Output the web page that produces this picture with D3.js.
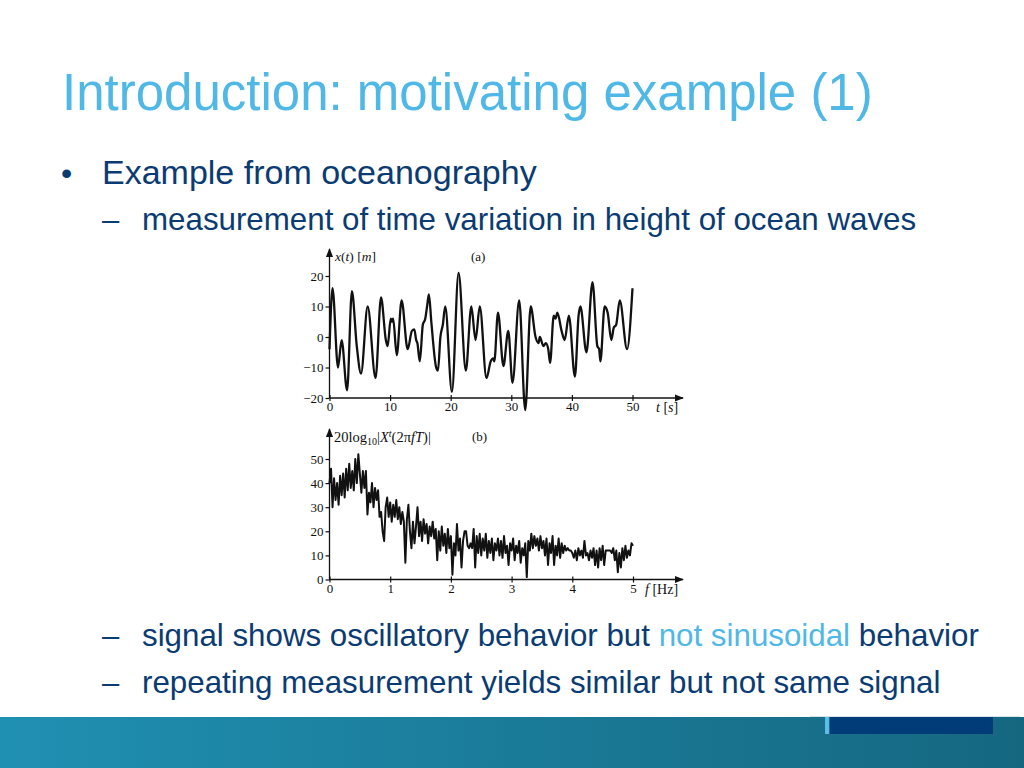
<!DOCTYPE html>
<html>
<head>
<meta charset="utf-8">
<script src="https://cdn.jsdelivr.net/npm/d3@7"></script>
<style>
  body { margin: 0; background: #fff; }
  svg { display: block; }
  .tick text { font-family: "Liberation Serif", serif; font-size: 13px; fill: #111; }
  .tick line { stroke: #111; stroke-width: 1.2; }
</style>
</head>
<body>
<div id="slide"></div>
<script>
// wave height record (a): knots, t in s, x in m
var waveT = [0, 0.5, 1.4, 2.0, 2.9, 3.7, 4.5, 5.2, 6.3, 7.6, 8.5, 9.3, 9.6, 10.1, 10.3, 10.5, 11.1, 11.9, 12.9, 13.6,
  14.0, 14.3, 14.5, 14.9, 15.4, 15.8, 16.1, 16.4, 16.8, 17.6, 17.9, 18.3, 18.7, 19.1, 20.2, 21.3, 22.5, 23.4, 24.1, 24.8,
  25.9, 26.6, 27.0, 27.2, 27.8, 28.7, 29.5, 30.2, 31.3, 32.3, 33.2, 34.0, 34.5, 34.7, 35.3, 35.7, 36.1, 36.4, 37.0, 37.3,
  37.6, 38.3, 38.8, 39.5, 40.5, 41.1, 41.4, 42.4, 43.4, 44.2, 44.5, 44.7, 45.4, 45.9, 46.5, 46.9, 47.3, 47.9, 49.1, 50];
var waveX = [-4, 16, -10, -1, -17.5, 15, -3, -12, 10, -13.5, 13, -1, -3, 6, 5, 6, -6, 12, -4, 2,
  2.5, -1, -2, -8, 4, 6, 10, 14, 5, -10, -11, 0, 4, 10, -18, 21, -11, 10, -1, 10,
  -13.5, -8, -7, -8, 8, -9.5, 2, -15, 12, -24, 10, 0, -2, 0, -3, -2, -4, -8.5, 7, 6,
  8, 2, -1, 7, -13, 7, 10, -5, 18, -3, -4, -8, 10, 8, -1, 3, 4, 12, -4, 16];

// spectrum (b): dB values, one every 0.025 Hz from 0 to 5 Hz
var specStep = 0.025;
var specDb = [
  40, 46, 30, 42, 33, 40, 31, 43, 35, 44, 34,
  46, 37, 48, 38, 45, 37, 50, 40, 52, 44,
  36, 45, 38, 45, 27, 36, 32, 40, 30, 38,
  33, 37, 26, 28, 20, 16, 30, 34, 26, 32,
  24, 31, 26, 33, 25, 30, 23, 28, 24, 7,
  25, 31, 20, 13, 24, 15, 22, 30, 18, 24,
  16, 25, 19, 23, 15, 22, 18, 24, 17, 21,
  8, 20, 12, 22, 14, 19, 11, 21, 13, 18,
  2, 15, 10, 23, 12, 17, 5, 16, 20, 20,
  14, 13, 15, 13, 21, 5, 18, 11, 19, 10,
  17, 12, 19, 9, 16, 11, 17, 8, 15, 12,
  17, 10, 16, 9, 18, 11, 14, 6, 15, 12,
  17, 8, 14, 11, 16, 7, 13, 10, 15, 1,
  16, 12, 19, 13, 18, 14, 17, 12, 18, 13,
  16, 10, 17, 6, 15, 11, 18, 6, 14, 10,
  17, 9, 15, 11, 14, 12, 13, 12, 12, 11,
  9, 12, 8, 13, 10, 12, 9, 16, 10, 11,
  8, 12, 9, 13, 6, 12, 5, 13, 8, 14,
  6, 12, 12, 12, 12, 11, 13, 8, 12, 3,
  11, 5, 13, 8, 14, 9, 12, 10, 15, 14];

var ticksTA = [0, 10, 20, 30, 40, 50];
var ticksXA = [-20, -10, 0, 10, 20];
var ticksFB = [0, 1, 2, 3, 4, 5];
var ticksDbB = [0, 10, 20, 30, 40, 50];

var svg = d3.select("#slide").append("svg")
  .attr("width", 1024)
  .attr("height", 768);

var defs = svg.append("defs");
var grad = defs.append("linearGradient").attr("id", "band");
grad.append("stop").attr("offset", "0%").attr("stop-color", "#2090b2");
grad.append("stop").attr("offset", "100%").attr("stop-color", "#156780");

defs.append("marker")
  .attr("id", "arrow")
  .attr("viewBox", "0 0 10 10")
  .attr("refX", 9).attr("refY", 5)
  .attr("markerWidth", 7).attr("markerHeight", 7)
  .attr("orient", "auto")
  .append("path")
  .attr("d", "M0,1 L10,5 L0,9 Z")
  .attr("fill", "#111");

// ---- slide text ----
var sans = "'Liberation Sans', Arial, sans-serif";
var navy = "#0b3b73";
var light = "#4fb8e6";

svg.append("text")
  .attr("x", 62).attr("y", 110)
  .attr("font-family", sans).attr("font-size", 51)
  .attr("fill", light)
  .text("Introduction: motivating example (1)");

svg.append("text").attr("x", 61).attr("y", 184)
  .attr("font-family", sans).attr("font-size", 32).attr("fill", navy).text("•");
svg.append("text").attr("x", 102).attr("y", 184)
  .attr("font-family", sans).attr("font-size", 34).attr("fill", navy)
  .text("Example from oceanography");

var subs = [
  { y: 230, parts: [["measurement of time variation in height of ocean waves", navy]] },
  { y: 646, parts: [["signal shows oscillatory behavior but ", navy], ["not sinusoidal", light], [" behavior", navy]] },
  { y: 693, parts: [["repeating measurement yields similar but not same signal", navy]] }
];
subs.forEach(function(s) {
  svg.append("text").attr("x", 102).attr("y", s.y)
    .attr("font-family", sans).attr("font-size", 31).attr("fill", navy).text("–");
  var t = svg.append("text").attr("x", 142).attr("y", s.y)
    .attr("font-family", sans).attr("font-size", 31.3);
  s.parts.forEach(function(p) {
    t.append("tspan").attr("fill", p[1]).text(p[0]);
  });
});

// ---- footer band ----
svg.append("rect").attr("x", 0).attr("y", 717).attr("width", 1024).attr("height", 51)
  .attr("fill", "url(#band)");
svg.append("line").attr("x1", 810).attr("x2", 1020).attr("y1", 716.5).attr("y2", 716.5)
  .attr("stroke", "#d8e4ea").attr("stroke-width", 1);
svg.append("rect").attr("x", 830).attr("y", 717).attr("width", 163).attr("height", 17)
  .attr("fill", "#023c78");
svg.append("rect").attr("x", 825).attr("y", 717).attr("width", 4).attr("height", 17)
  .attr("fill", "#5cbde9");

// ---- chart helpers ----
var serif = "'Liberation Serif', 'Times New Roman', serif";

function drawAxes(g, x, y, xTicks, yTicks, xFmt, yFmt, xEnd, yTop) {
  var x0 = x.range()[0], y0 = y.range()[0];

  g.append("g")
    .attr("transform", "translate(" + x0 + ",0)")
    .call(d3.axisLeft(y).tickValues(yTicks).tickSize(4).tickPadding(2).tickFormat(yFmt))
    .call(function(a) { a.select(".domain").remove(); });

  g.append("g")
    .attr("transform", "translate(0," + y0 + ")")
    .call(d3.axisBottom(x).tickValues(xTicks).tickSize(3).tickPadding(1).tickFormat(xFmt))
    .call(function(a) {
      a.select(".domain").remove();
      a.selectAll(".tick line").attr("y1", -3);
    });

  g.append("line")
    .attr("x1", x0).attr("x2", x0).attr("y1", y0).attr("y2", yTop)
    .attr("stroke", "#111").attr("stroke-width", 1.3)
    .attr("marker-end", "url(#arrow)");
  g.append("line")
    .attr("x1", x0).attr("x2", xEnd).attr("y1", y0).attr("y2", y0)
    .attr("stroke", "#111").attr("stroke-width", 1.3)
    .attr("marker-end", "url(#arrow)");
}

var minus = function(d) { return d < 0 ? "\u2212" + Math.abs(d) : String(d); };

// ---- chart (a) ----
var ga = svg.append("g");
var xA = d3.scaleLinear().domain([0, 50]).range([329.5, 632.5]);
var yA = d3.scaleLinear().domain([-20, 20]).range([398, 276]);

drawAxes(ga, xA, yA, ticksTA, ticksXA, String, minus, 683, 249);

var waveData = waveT.map(function(t, i) { return [t, waveX[i]]; });
ga.append("path")
  .datum(waveData)
  .attr("fill", "none")
  .attr("stroke", "#111")
  .attr("stroke-width", 2.3)
  .attr("stroke-linejoin", "round")
  .attr("d", d3.line()
    .x(function(d) { return xA(d[0]); })
    .y(function(d) { return yA(d[1]); })
    .curve(d3.curveMonotoneX));

var la = ga.append("text").attr("x", 335).attr("y", 261)
  .attr("font-family", serif).attr("font-size", 13.5).attr("fill", "#111");
la.append("tspan").attr("font-style", "italic").text("x");
la.append("tspan").text("(");
la.append("tspan").attr("font-style", "italic").text("t");
la.append("tspan").text(")  [");
la.append("tspan").attr("font-style", "italic").text("m");
la.append("tspan").text("]");

ga.append("text").attr("x", 471).attr("y", 261)
  .attr("font-family", serif).attr("font-size", 13).attr("fill", "#111").text("(a)");

var ta = ga.append("text").attr("x", 656).attr("y", 412)
  .attr("font-family", serif).attr("font-size", 14).attr("fill", "#111");
ta.append("tspan").attr("font-style", "italic").text("t");
ta.append("tspan").text(" [");
ta.append("tspan").attr("font-style", "italic").text("s");
ta.append("tspan").text("]");

// ---- chart (b) ----
var gb = svg.append("g");
var xB = d3.scaleLinear().domain([0, 5]).range([329.5, 633]);
var yB = d3.scaleLinear().domain([0, 50]).range([579.5, 459]);

drawAxes(gb, xB, yB, ticksFB, ticksDbB, String, String, 683, 429);

var specData = specDb.map(function(v, i) { return [i * specStep, v]; });
gb.append("path")
  .datum(specData)
  .attr("fill", "none")
  .attr("stroke", "#111")
  .attr("stroke-width", 2)
  .attr("stroke-linejoin", "round")
  .attr("d", d3.line()
    .x(function(d) { return xB(d[0]); })
    .y(function(d) { return yB(d[1]); }));

var lb = gb.append("text").attr("x", 334).attr("y", 442)
  .attr("font-family", serif).attr("font-size", 14.5).attr("fill", "#111");
lb.append("tspan").text("20log");
lb.append("tspan").attr("font-size", 10).attr("dy", 3).text("10");
lb.append("tspan").attr("dy", -3).text("|");
lb.append("tspan").attr("font-style", "italic").text("X");
lb.append("tspan").attr("font-size", 10).attr("dy", -5).attr("font-style", "italic").text("t");
lb.append("tspan").attr("dy", 5).text("(2π");
lb.append("tspan").attr("font-style", "italic").text("fT");
lb.append("tspan").text(")|");

gb.append("text").attr("x", 472).attr("y", 441)
  .attr("font-family", serif).attr("font-size", 13).attr("fill", "#111").text("(b)");

var tb = gb.append("text").attr("x", 645).attr("y", 594)
  .attr("font-family", serif).attr("font-size", 14).attr("fill", "#111");
tb.append("tspan").attr("font-style", "italic").text("f");
tb.append("tspan").text(" [Hz]");
</script>
</body>
</html>
